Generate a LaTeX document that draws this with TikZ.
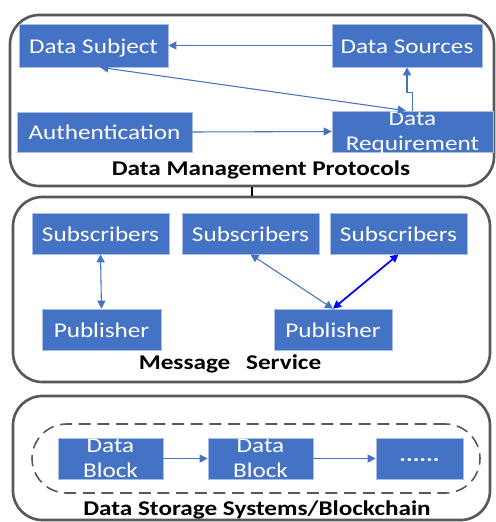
\documentclass[tikz,border=0pt]{standalone}
\usepackage{fontspec}
\setmainfont[FakeStretch=1.2]{Carlito}
\usetikzlibrary{arrows.meta}
\definecolor{ofblue}{HTML}{4472C4}
\definecolor{ofedge}{HTML}{A9BEE4}
\definecolor{frame}{HTML}{595959}
\tikzset{
  x=0.75pt, y=-0.75pt,
  bx/.style={fill=ofblue, draw=ofedge, line width=0.5pt, text=white, inner sep=0pt, align=center,
    font=\fontsize{15.75}{18.75}\selectfont, minimum height=30.75pt},
  one/.style={text height=13pt, text depth=1.5pt},
  outer/.style={draw=frame, line width=2pt, rounded corners=22pt},
  ttl/.style={font=\fontsize{15.75}{18.75}\selectfont\bfseries, inner sep=0pt},
  arr/.style={draw=ofblue, line width=0.8pt, -{Triangle[width=6pt,length=6pt]}},
  darr/.style={draw=ofblue, line width=0.8pt, {Triangle[width=6pt,length=6pt]}-{Triangle[width=6pt,length=6pt]}},
}
\begin{document}
\begin{tikzpicture}
\useasboundingbox (0,0) rectangle (496,522);
% outer frames
\node[outer, minimum width=363pt, minimum height=128.25pt] (mp) at (252,100.5) {};
\node[outer, minimum width=357.75pt, minimum height=138.75pt] (ms) at (251.5,289.5) {};
\node[outer, minimum width=357.75pt, minimum height=93pt] (st) at (251.5,458) {};
\node[draw=frame, line width=1.2pt, dash pattern=on 9pt off 5pt, rounded corners=26pt,
  minimum width=336pt, minimum height=51.75pt] (chain) at (256,458.5) {};
\coordinate (lx) at (252,0);
\draw[black, line width=0.8pt] (mp.south -| lx) -- (ms.north -| lx);

% data management protocols
\node[bx, one, minimum width=111.75pt, minimum height=32.25pt] (dsub) at (93.5,45.5) {Data Subject};
\node[bx, one, minimum width=112.5pt, minimum height=32.25pt] (dsrc) at (407,45.5) {Data Sources};
\node[bx, one, minimum width=131.25pt, minimum height=30pt] (auth) at (104.5,132) {Authentication};
\node[bx, minimum width=120.75pt, minimum height=30.75pt] (dreq) at (412.5,131.5) {};
\node[font=\fontsize{15.75}{18.75}\selectfont, text=white, align=center, inner sep=0pt] (dreqt) at (412.5,133) {Data\\Requirement};
\node[ttl] (t1) at (261,170) {Data Management Protocols};

\draw[arr] (dsrc.west) -- (dsub.east);
\draw[arr] (auth.east) -- (dreq.west);
\draw[darr] ([xshift=5pt]dsub.south) -- ([xshift=-5pt]dreq.north);
\draw[arr] (dreq.north) -- ++(0,-18) -| (dsrc.south);

% message service
\node[bx, one, minimum width=102.75pt] (s1) at (100.5,233.5) {Subscribers};
\node[bx, one, minimum width=102.75pt] (s2) at (250.5,233.5) {Subscribers};
\node[bx, one, minimum width=102.75pt] (s3) at (398.5,233.5) {Subscribers};
\node[bx, one, minimum width=89.25pt] (p1) at (101.5,329.5) {Publisher};
\node[bx, one, minimum width=88.5pt] (p2) at (333,329.5) {Publisher};
\node[ttl] (t2) at (230,364) {Message\hspace{0.75em}Service};

\draw[darr] (s1.south) -- (p1.north);
\draw[darr] (s2.south) -- (p2.north);
\draw[darr, draw=blue, line width=1.3pt] (s3.south) -- (p2.north);

% storage
\node[bx, minimum width=78.75pt] (b1) at (110.5,458.5) {Data\\Block};
\node[bx, minimum width=78.75pt] (b2) at (260.5,458.5) {Data\\Block};
\node[bx, one, minimum width=65.25pt] (b3) at (419.5,458.5) {\raisebox{3.5pt}{\textbf{......}}};
\node[ttl] (t3) at (257,510) {Data Storage Systems/Blockchain};

\draw[arr] (b1.east) -- (b2.west);
\draw[arr] (b2.east) -- (b3.west);
\end{tikzpicture}
\end{document}
